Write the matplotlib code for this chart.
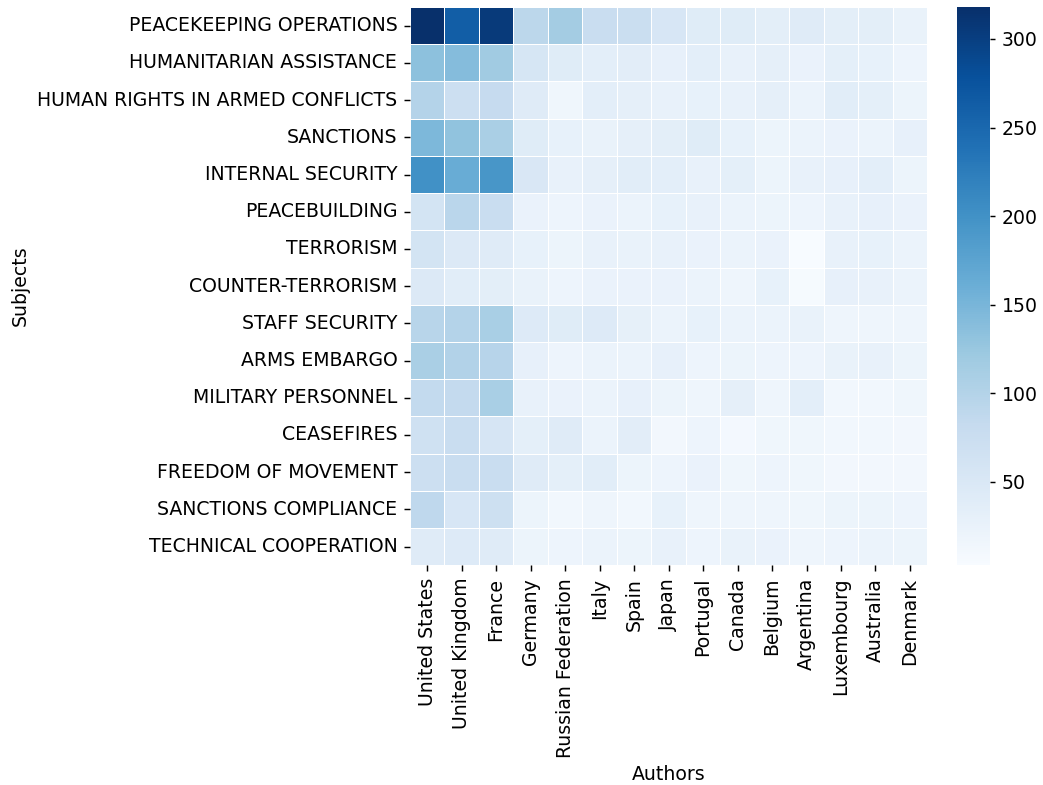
import numpy as np
import pandas as pd
import seaborn as sns
from matplotlib import pyplot as plt

subjects = ["PEACEKEEPING OPERATIONS", "HUMANITARIAN ASSISTANCE",
            "HUMAN RIGHTS IN ARMED CONFLICTS", "SANCTIONS", "INTERNAL SECURITY",
            "PEACEBUILDING", "TERRORISM", "COUNTER-TERRORISM", "STAFF SECURITY",
            "ARMS EMBARGO", "MILITARY PERSONNEL", "CEASEFIRES",
            "FREEDOM OF MOVEMENT", "SANCTIONS COMPLIANCE", "TECHNICAL COOPERATION"]

authors = ["United States", "United Kingdom", "France", "Germany",
           "Russian Federation", "Italy", "Spain", "Japan", "Portugal", "Canada",
           "Belgium", "Argentina", "Luxembourg", "Australia", "Denmark"]

# one row per subject, columns follow the authors list
peacekeeping = [318, 262, 305, 92, 115, 78, 75, 54, 40, 40, 35, 42, 35, 36, 26]
humanitarian = [134, 140, 118, 55, 40, 34, 37, 30, 34, 27, 32, 24, 33, 28, 20]
human_rights = [99, 73, 82, 42, 16, 34, 32, 27, 28, 27, 32, 22, 38, 33, 21]
sanctions = [146, 131, 110, 40, 28, 26, 32, 36, 41, 28, 21, 22, 24, 22, 30]
internal_security = [200, 163, 194, 52, 27, 32, 38, 34, 27, 33, 21, 27, 29, 34, 21]
peacebuilding = [60, 93, 77, 24, 20, 24, 22, 28, 27, 22, 21, 20, 27, 29, 24]
terrorism = [60, 47, 42, 28, 21, 27, 26, 27, 24, 22, 24, 3, 27, 28, 22]
counter_terrorism = [47, 38, 35, 26, 19, 24, 24, 24, 22, 18, 28, 6, 29, 27, 22]
staff_security = [96, 99, 111, 44, 40, 44, 31, 22, 28, 22, 22, 26, 18, 18, 18]
arms_embargo = [110, 102, 97, 29, 19, 22, 22, 29, 19, 21, 19, 19, 26, 27, 21]
military_personnel = [85, 83, 111, 27, 24, 22, 29, 21, 18, 32, 18, 34, 14, 14, 16]
ceasefires = [68, 78, 57, 33, 42, 22, 37, 12, 19, 10, 16, 16, 14, 14, 12]
freedom_of_movement = [72, 77, 78, 42, 33, 38, 21, 19, 24, 16, 19, 16, 12, 12, 12]
sanctions_compliance = [88, 54, 70, 21, 14, 18, 14, 28, 18, 18, 18, 16, 21, 21, 19]
technical_cooperation = [42, 44, 42, 21, 19, 22, 21, 27, 19, 26, 24, 18, 19, 22, 21]

rows = [peacekeeping, humanitarian, human_rights, sanctions, internal_security,
        peacebuilding, terrorism, counter_terrorism, staff_security, arms_embargo,
        military_personnel, ceasefires, freedom_of_movement, sanctions_compliance,
        technical_cooperation]

df = pd.DataFrame(np.array(rows), index=subjects, columns=authors)

plt.rcParams["font.size"] = 10.45

fig = plt.figure(figsize=(1043 / 130, 785 / 130), dpi=130)
ax = fig.add_axes([0.393, 0.280, 0.496, 0.711])
cax = fig.add_axes([0.918, 0.280, 0.031, 0.711])

sns.heatmap(df, ax=ax, cbar_ax=cax, cmap="Blues", linewidths=0.5,
            linecolor="white")

ax.set_xlabel("Authors")
ax.set_ylabel("Subjects")
ax.tick_params(axis="x", rotation=90)
ax.tick_params(axis="y", rotation=0)
cax.tick_params(length=3)

plt.savefig("out.png", dpi=130)
